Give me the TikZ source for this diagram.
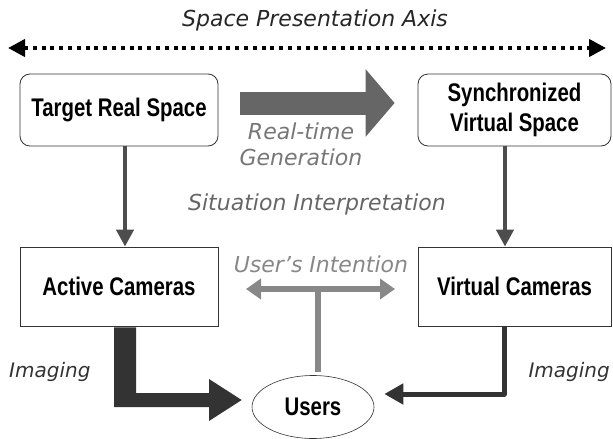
\documentclass[tikz,border=0pt]{standalone}
\usepackage{fontspec}
\setmainfont{DejaVu Sans}
\newfontfamily\boxfont[FakeStretch=0.80]{Liberation Sans}
\newfontfamily\labfont{DejaVu Sans}
\usetikzlibrary{arrows.meta,shapes.geometric,calc}
\definecolor{bigarrow}{HTML}{666666}
\definecolor{vert}{HTML}{4D4D4D}
\definecolor{dark}{HTML}{333333}
\definecolor{intent}{HTML}{888888}
\definecolor{labgray}{HTML}{777777}
\tikzset{
  boxlabel/.style={font=\boxfont\bfseries\fontsize{25.5}{30}\selectfont, align=center, text=black},
  rbox/.style={draw=black!80, line width=0.8pt, rounded corners=10pt, boxlabel},
  sbox/.style={draw=black!80, line width=0.8pt, boxlabel},
  itlab/.style={font=\labfont\itshape\fontsize{22}{26}\selectfont, align=center},
  imglab/.style={font=\labfont\itshape\fontsize{20}{24}\selectfont, text=dark, inner sep=0pt},
}
\begin{document}
\begin{tikzpicture}[x=1pt,y=-1pt]
\useasboundingbox (0,0) rectangle (613,439);
% axis
\node[itlab, text=black!85] (axislab) at (315,20) {Space Presentation Axis};
\coordinate (axl) at (8,48);
\coordinate (axr) at (606,48);
\draw[line width=4pt, dash pattern=on 4pt off 4.8pt,
  {Triangle[length=17pt,width=17pt]}-{Triangle[length=17pt,width=17pt]}] (axl) -- (axr);
% boxes
\node[rbox, minimum width=198pt, minimum height=72pt] (target) at (119,110) {Target Real Space};
\node[rbox, minimum width=193pt, minimum height=72pt] (sync) at (514.5,110) {Synchronized\\Virtual Space};
\node[sbox, minimum width=198pt, minimum height=79pt] (active) at (119,286.5) {Active Cameras};
\node[sbox, minimum width=193pt, minimum height=79pt] (virtual) at (514.5,286.5) {Virtual Cameras};
\node[ellipse, draw=black!80, line width=0.6pt, minimum width=122pt, minimum height=63pt, inner sep=0pt, boxlabel] (users) at (313,407) {Users};
% labels
\node[itlab, text=labgray] (rtg) at (301,144) {Real-time\\Generation};
\node[itlab, text=black!60] (sit) at (317,204) {Situation Interpretation};
\node[itlab, text=intent] (uint) at (321,264) {User’s Intention};
\node[imglab, anchor=west] (imgl) at (9,372) {Imaging};
\node[imglab, anchor=east] (imgr) at (610,372) {Imaging};
% big arrow
\draw[bigarrow, line width=23pt, -{Triangle[length=29pt,width=66pt]}]
  ($(target.east)+(22,-7)$) -- ($(sync.west)+(-23,-7)$);
% vertical arrows
\draw[vert, line width=4.5pt, -{Triangle[length=17pt,width=17pt]}]
  ($(target.south)+(6,0)$) -- ($(active.north)+(6,0)$);
\draw[vert, line width=4.5pt, -{Triangle[length=17pt,width=17pt]}]
  ($(sync.south)+(-9.5,0)$) -- ($(virtual.north)+(-9.5,0)$);
% intention
\coordinate (ijoin) at (318,289);
\draw[intent, line width=6pt, {Triangle[length=15pt,width=20pt]}-{Triangle[length=15pt,width=20pt]}]
  (246,289) -- (395,289);
\draw[intent, line width=6pt] (ijoin) -- ($(users.north)+(5,-3)$);
% left thick L arrow
\fill[dark] ($(active.south)+(-5,1)$) -- ($(active.south)+(17,1)$) -- (136,393) -- (209,393)
  -- (209,379) -- ($(users.west)+(-10,-7)$) -- (209,421) -- (209,407) -- (114,407) -- cycle;
% right L arrow
\draw[dark, line width=5pt, line join=round, -{Triangle[length=19pt,width=20pt]}]
  ($(virtual.south)+(-10.5,1)$) |- ($(users.east)+(10,-13)$);
\end{tikzpicture}
\end{document}
